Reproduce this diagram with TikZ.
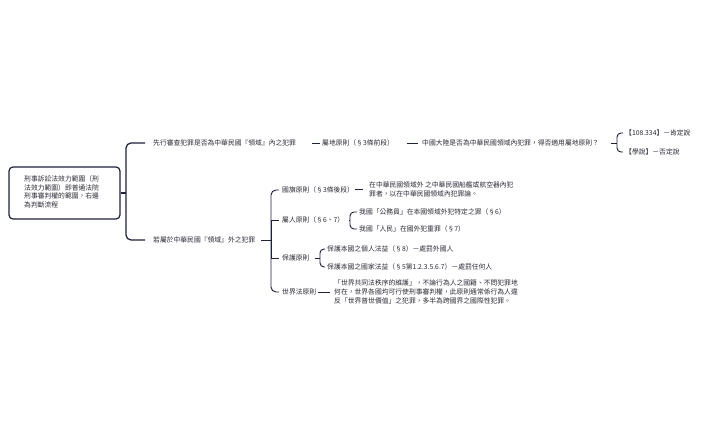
\documentclass[tikz,border=0pt]{standalone}
\usepackage{fontspec}
\setmainfont{Noto Sans CJK TC}
\definecolor{linec}{HTML}{1E2140}
\definecolor{textc}{HTML}{2A2A36}
\begin{document}
\begin{tikzpicture}[x=1pt,y=-1pt,
  txt/.style={anchor=west,inner sep=0pt,text=textc,font=\fontsize{6.8}{8.6}\selectfont,align=left},
  conn/.style={draw=linec,line width=0.95pt},
  mainconn/.style={draw=linec,line width=1.25pt},
  rootbox/.style={draw=linec,line width=1.2pt,rounded corners=4pt,minimum width=111pt,minimum height=52pt,inner sep=0pt}]
\useasboundingbox[fill=white] (0,0) rectangle (705,436);
% root
\node[rootbox] (root) at (64.5,193) {};
\node[txt] (roottxt) at (24,192) {刑事訴訟法效力範圍（刑\\法效力範圍）即普通法院\\刑事審判權的範圍，右邊\\為判斷流程};
% level 1
\node[txt] (a) at (153,143) {先行審查犯罪是否為中華民國『領域』內之犯罪};
\node[txt] (e) at (153,240) {若屬於中華民國『領域』外之犯罪};
% top branch
\node[txt] (b) at (322,143) {屬地原則（§3條前段）};
\node[txt] (c) at (422,143) {中國大陸是否為中華民國領域內犯罪，得否適用屬地原則？};
\node[txt] (d1) at (625,133) {【108.334】－肯定說};
\node[txt] (d2) at (625,152) {【學說】－否定說};
% bottom branch
\node[txt] (f1) at (282,190) {國旗原則（§3條後段）};
\node[txt] (f2) at (282,220) {屬人原則（§6、7）};
\node[txt] (f3) at (282,258) {保護原則};
\node[txt] (f4) at (282,292) {世界法原則};
\node[txt] (g) at (369,189.5) {在中華民國領域外 之中華民國船艦或航空器內犯\\罪者，以在中華民國領域內犯罪論。};
\node[txt] (h1) at (359,212) {我國「公務員」在本國領域外犯特定之罪（§6）};
\node[txt] (h2) at (359,229) {我國「人民」在國外犯重罪（§7）};
\node[txt] (i1) at (327,249) {保護本國之個人法益（§8）－處罰外國人};
\node[txt] (i2) at (327,267) {保護本國之國家法益（§5第1.2.3.5.6.7）－處罰任何人};
\node[txt] (k) at (334,292) {「世界共同法秩序的維護」，不論行為人之國籍、不問犯罪地\\何在，世界各國均可行使刑事審判權，此原則通常係行為人違\\反「世界普世價值」之犯罪，多半為跨國界之國際性犯罪。};
% junction coordinates
\coordinate (j0) at (126,193);
\coordinate (jc) at (617,143);
\coordinate (je) at (271,240);
\coordinate (jf2) at (350,220);
\coordinate (jf3) at (320,258);
% connectors
\draw[mainconn] (root.east) -- (j0);
\draw[mainconn,rounded corners=5pt] ([xshift=-8pt]a.west) -| (j0) |- ([xshift=-8pt]e.west);
\draw[conn] ([xshift=-10pt]b.west) -- ([xshift=-2pt]b.west);
\draw[conn] ([xshift=-15pt]c.west) -- ([xshift=-4pt]c.west);
\draw[conn] ([xshift=12pt]c.east) -- (jc);
\draw[conn,rounded corners=4pt] ([xshift=-2pt]d1.west) -| (jc) |- ([xshift=-2pt]d2.west);
\draw[conn] ([xshift=6pt]e.east) -- (je);
\draw[conn,rounded corners=5pt] ([xshift=-3pt]f1.west) -| (je) |- ([xshift=-3pt]f4.west);
\draw[conn] (je) |- ([xshift=-3pt]f2.west);
\draw[conn] (je) |- ([xshift=-3pt]f3.west);
\draw[conn] ([xshift=-14pt]g.west) -- ([xshift=-6pt]g.west);
\draw[conn] ([xshift=5pt]f2.east) -- (jf2);
\draw[conn,rounded corners=4pt] ([xshift=-2pt]h1.west) -| (jf2) |- ([xshift=-2pt]h2.west);
\draw[conn] ([xshift=5pt]f3.east) -- (jf3);
\draw[conn,rounded corners=4pt] ([xshift=-2pt]i1.west) -| (jf3) |- ([xshift=-2pt]i2.west);
\draw[conn] ([xshift=-16pt]k.west) -- ([xshift=-4pt]k.west);
\end{tikzpicture}
\end{document}
